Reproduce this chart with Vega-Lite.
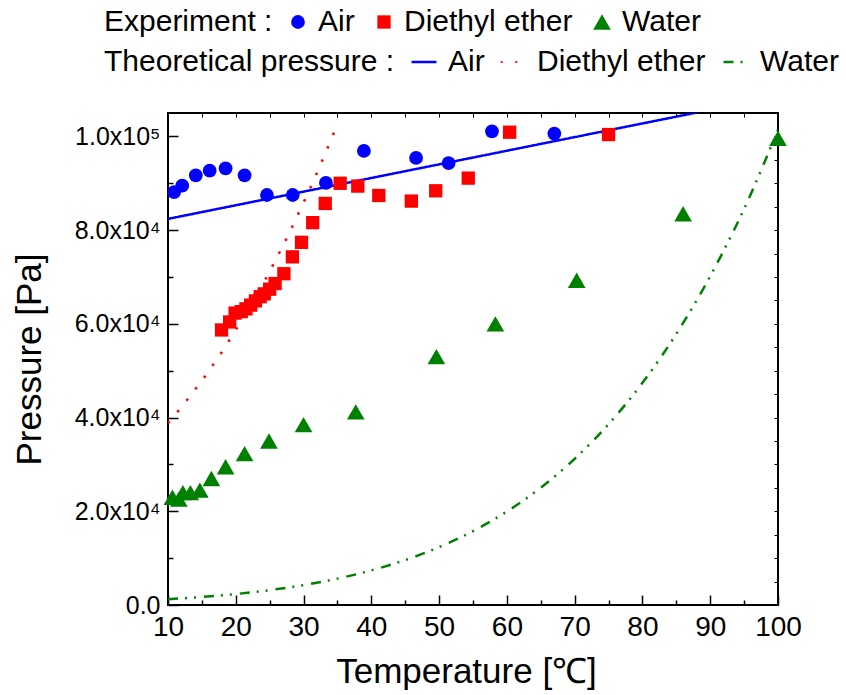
{
  "$schema": "https://vega.github.io/schema/vega-lite/v6.json",
  "width": 610,
  "height": 492,
  "autosize": {"type": "none"},
  "padding": {"left": 168, "top": 113, "right": 68, "bottom": 90},
  "background": "white",
  "config": {
    "view": {"stroke": "black", "strokeWidth": 2},
    "font": "Liberation Sans",
    "axis": {
      "grid": false,
      "domain": false,
      "tickColor": "black",
      "tickWidth": 1.5,
      "labelColor": "black",
      "titleColor": "black",
      "labelFont": "Liberation Sans",
      "titleFont": "Liberation Sans",
      "titleFontWeight": "normal",
      "labelFlush": false,
      "labelOverlap": false
    },
    "legend": {
      "orient": "none",
      "direction": "horizontal",
      "titleOrient": "left",
      "labelFont": "Liberation Sans",
      "titleFont": "Liberation Sans",
      "labelFontSize": 30,
      "titleFontSize": 30,
      "titleFontWeight": "normal",
      "labelColor": "black",
      "titleColor": "black",
      "titlePadding": 14,
      "labelOffset": 9,
      "columnPadding": 20,
      "titleLimit": 500,
      "labelLimit": 400
    }
  },
  "datasets": {
    "theory": [
      {"T": 10, "P": 82400, "gas": "Air"},
      {"T": 40, "P": 91130, "gas": "Air"},
      {"T": 70, "P": 99860, "gas": "Air"},
      {"T": 100, "P": 108590, "gas": "Air"},
      {"T": 10, "P": 38800, "gas": "Diethyl ether"},
      {"T": 11, "P": 40500, "gas": "Diethyl ether"},
      {"T": 12, "P": 42300, "gas": "Diethyl ether"},
      {"T": 13, "P": 44100, "gas": "Diethyl ether"},
      {"T": 14, "P": 46000, "gas": "Diethyl ether"},
      {"T": 15, "P": 47900, "gas": "Diethyl ether"},
      {"T": 16, "P": 49900, "gas": "Diethyl ether"},
      {"T": 17, "P": 52000, "gas": "Diethyl ether"},
      {"T": 18, "P": 54100, "gas": "Diethyl ether"},
      {"T": 19, "P": 56400, "gas": "Diethyl ether"},
      {"T": 20, "P": 58700, "gas": "Diethyl ether"},
      {"T": 21, "P": 61000, "gas": "Diethyl ether"},
      {"T": 22, "P": 63400, "gas": "Diethyl ether"},
      {"T": 23, "P": 65900, "gas": "Diethyl ether"},
      {"T": 24, "P": 68500, "gas": "Diethyl ether"},
      {"T": 25, "P": 71200, "gas": "Diethyl ether"},
      {"T": 26, "P": 74000, "gas": "Diethyl ether"},
      {"T": 27, "P": 76800, "gas": "Diethyl ether"},
      {"T": 28, "P": 79700, "gas": "Diethyl ether"},
      {"T": 29, "P": 82800, "gas": "Diethyl ether"},
      {"T": 30, "P": 85900, "gas": "Diethyl ether"},
      {"T": 31, "P": 89000, "gas": "Diethyl ether"},
      {"T": 32, "P": 92300, "gas": "Diethyl ether"},
      {"T": 33, "P": 95700, "gas": "Diethyl ether"},
      {"T": 34, "P": 99100, "gas": "Diethyl ether"},
      {"T": 35, "P": 102700, "gas": "Diethyl ether"},
      {"T": 10, "P": 1230, "gas": "Water"},
      {"T": 15, "P": 1710, "gas": "Water"},
      {"T": 20, "P": 2340, "gas": "Water"},
      {"T": 25, "P": 3170, "gas": "Water"},
      {"T": 30, "P": 4250, "gas": "Water"},
      {"T": 35, "P": 5630, "gas": "Water"},
      {"T": 40, "P": 7380, "gas": "Water"},
      {"T": 45, "P": 9590, "gas": "Water"},
      {"T": 50, "P": 12350, "gas": "Water"},
      {"T": 55, "P": 15760, "gas": "Water"},
      {"T": 60, "P": 19950, "gas": "Water"},
      {"T": 65, "P": 25040, "gas": "Water"},
      {"T": 70, "P": 31200, "gas": "Water"},
      {"T": 75, "P": 38590, "gas": "Water"},
      {"T": 80, "P": 47410, "gas": "Water"},
      {"T": 85, "P": 57870, "gas": "Water"},
      {"T": 90, "P": 70180, "gas": "Water"},
      {"T": 95, "P": 84550, "gas": "Water"},
      {"T": 100, "P": 101420, "gas": "Water"}
    ],
    "experiment": [
      {"T": 10.9, "P": 88100, "sample": "Air"},
      {"T": 12.1, "P": 89500, "sample": "Air"},
      {"T": 14.1, "P": 91700, "sample": "Air"},
      {"T": 16.15, "P": 92700, "sample": "Air"},
      {"T": 18.5, "P": 93200, "sample": "Air"},
      {"T": 21.3, "P": 91700, "sample": "Air"},
      {"T": 24.6, "P": 87500, "sample": "Air"},
      {"T": 28.4, "P": 87500, "sample": "Air"},
      {"T": 33.3, "P": 90100, "sample": "Air"},
      {"T": 38.9, "P": 96900, "sample": "Air"},
      {"T": 46.6, "P": 95400, "sample": "Air"},
      {"T": 51.4, "P": 94300, "sample": "Air"},
      {"T": 57.8, "P": 101100, "sample": "Air"},
      {"T": 67.0, "P": 100600, "sample": "Air"},
      {"T": 17.9, "P": 58700, "sample": "Diethyl ether"},
      {"T": 19.1, "P": 60400, "sample": "Diethyl ether"},
      {"T": 19.9, "P": 62300, "sample": "Diethyl ether"},
      {"T": 20.8, "P": 62600, "sample": "Diethyl ether"},
      {"T": 21.5, "P": 63200, "sample": "Diethyl ether"},
      {"T": 22.2, "P": 64000, "sample": "Diethyl ether"},
      {"T": 22.9, "P": 64900, "sample": "Diethyl ether"},
      {"T": 23.6, "P": 65800, "sample": "Diethyl ether"},
      {"T": 24.2, "P": 66400, "sample": "Diethyl ether"},
      {"T": 25.0, "P": 67400, "sample": "Diethyl ether"},
      {"T": 25.8, "P": 68600, "sample": "Diethyl ether"},
      {"T": 27.1, "P": 70700, "sample": "Diethyl ether"},
      {"T": 28.35, "P": 74300, "sample": "Diethyl ether"},
      {"T": 29.7, "P": 77400, "sample": "Diethyl ether"},
      {"T": 31.35, "P": 81600, "sample": "Diethyl ether"},
      {"T": 33.2, "P": 85700, "sample": "Diethyl ether"},
      {"T": 35.4, "P": 90000, "sample": "Diethyl ether"},
      {"T": 38.0, "P": 89400, "sample": "Diethyl ether"},
      {"T": 41.1, "P": 87400, "sample": "Diethyl ether"},
      {"T": 45.9, "P": 86200, "sample": "Diethyl ether"},
      {"T": 49.5, "P": 88400, "sample": "Diethyl ether"},
      {"T": 54.3, "P": 91100, "sample": "Diethyl ether"},
      {"T": 60.4, "P": 100900, "sample": "Diethyl ether"},
      {"T": 75.0, "P": 100400, "sample": "Diethyl ether"},
      {"T": 10.65, "P": 23000, "sample": "Water"},
      {"T": 11.6, "P": 22600, "sample": "Water"},
      {"T": 12.2, "P": 24000, "sample": "Water"},
      {"T": 13.3, "P": 24000, "sample": "Water"},
      {"T": 14.7, "P": 24500, "sample": "Water"},
      {"T": 16.4, "P": 27000, "sample": "Water"},
      {"T": 18.5, "P": 29500, "sample": "Water"},
      {"T": 21.3, "P": 32300, "sample": "Water"},
      {"T": 24.9, "P": 35000, "sample": "Water"},
      {"T": 30.0, "P": 38500, "sample": "Water"},
      {"T": 37.7, "P": 41200, "sample": "Water"},
      {"T": 49.6, "P": 53000, "sample": "Water"},
      {"T": 58.3, "P": 60000, "sample": "Water"},
      {"T": 70.3, "P": 69300, "sample": "Water"},
      {"T": 86.0, "P": 83500, "sample": "Water"},
      {"T": 100, "P": 99600, "sample": "Water"}
    ]
  },
  "layer": [
    {
      "data": {"name": "theory"},
      "mark": {"type": "line", "clip": true, "strokeWidth": 2.5, "interpolate": "monotone"},
      "encoding": {
        "x": {
          "field": "T", "type": "quantitative",
          "scale": {"domain": [10, 100], "nice": false, "zero": false},
          "axis": {
            "orient": "top", "title": null, "labels": false,
            "values": [10, 15, 20, 25, 30, 35, 40, 45, 50, 55, 60, 65, 70, 75, 80, 85, 90, 95, 100],
            "tickSize": -4, "tickWidth": 1
          }
        },
        "y": {
          "field": "P", "type": "quantitative",
          "scale": {"domain": [0, 105000], "nice": false},
          "axis": {
            "orient": "right", "title": null, "labels": false,
            "values": [0, 5000, 10000, 15000, 20000, 25000, 30000, 35000, 40000, 45000, 50000, 55000, 60000, 65000, 70000, 75000, 80000, 85000, 90000, 95000, 100000],
            "tickSize": -4, "tickWidth": 1
          }
        },
        "color": {
          "field": "gas", "type": "nominal",
          "scale": {"domain": ["Air", "Diethyl ether", "Water"], "range": ["#0000ff", "#ff0000", "#008000"]},
          "legend": {
            "title": "Theoretical pressure :",
            "symbolType": "stroke",
            "symbolSize": 625,
            "symbolStrokeWidth": 2.5,
            "columnPadding": 12,
            "labelOffset": 9,
            "titlePadding": 14,
            "legendX": -64,
            "legendY": -66,
            "encode": {
              "symbols": {
                "update": {
                  "strokeDash": {"signal": "datum.value == 'Diethyl ether' ? [2, 3] : [1, 0]"},
                  "strokeWidth": {"signal": "datum.value == 'Diethyl ether' ? 1.5 : 2.5"}
                }
              }
            }
          }
        },
        "strokeDash": {
          "field": "gas", "type": "nominal",
          "scale": {"domain": ["Air", "Diethyl ether", "Water"], "range": [[1, 0], [2.5, 12], [10, 7, 2, 7, 2, 8]]},
          "legend": null
        }
      }
    },
    {
      "data": {"name": "experiment"},
      "mark": {"type": "point", "filled": true, "opacity": 1},
      "encoding": {
        "x": {
          "field": "T", "type": "quantitative",
          "axis": {
            "orient": "bottom",
            "title": "Temperature [℃]",
            "titleFontSize": 35,
            "titlePadding": 8,
            "titleX": 298,
            "values": [10, 15, 20, 25, 30, 35, 40, 45, 50, 55, 60, 65, 70, 75, 80, 85, 90, 95, 100],
            "labelExpr": "datum.value % 10 == 0 ? format(datum.value, 'd') : ''",
            "labelFontSize": 28,
            "labelPadding": 18,
            "tickSize": {"condition": {"test": "datum.value % 10 == 0", "value": -10}, "value": -5}
          }
        },
        "y": {
          "field": "P", "type": "quantitative",
          "axis": {
            "orient": "left",
            "title": "Pressure [Pa]",
            "titleFontSize": 35,
            "titlePadding": 27,
            "values": [0, 10000, 20000, 30000, 40000, 50000, 60000, 70000, 80000, 90000, 100000],
            "labelExpr": "datum.value % 20000 != 0 ? '' : datum.value == 0 ? '0.0' : datum.value >= 100000 ? '1.0x10⁵' : format(datum.value / 10000, '.1f') + 'x10⁴'",
            "labelFontSize": 25,
            "labelPadding": 18,
            "tickSize": {"condition": {"test": "datum.value % 20000 == 0", "value": -10}, "value": -5}
          }
        },
        "color": {
          "field": "sample", "type": "nominal",
          "scale": {"domain": ["Air", "Diethyl ether", "Water"], "range": ["#0000ff", "#ff0000", "#008000"]},
          "legend": {
            "title": "Experiment :",
            "symbolSize": 150,
            "titlePadding": 10,
            "labelOffset": 5,
            "columnPadding": 14,
            "legendX": -64,
            "legendY": -106
          }
        },
        "shape": {
          "field": "sample", "type": "nominal",
          "scale": {"domain": ["Air", "Diethyl ether", "Water"], "range": ["circle", "square", "triangle-up"]},
          "legend": {
            "title": "Experiment :",
            "symbolSize": 150,
            "titlePadding": 10,
            "labelOffset": 5,
            "columnPadding": 14,
            "legendX": -64,
            "legendY": -106
          }
        },
        "size": {
          "field": "sample", "type": "nominal",
          "scale": {"type": "ordinal", "domain": ["Air", "Diethyl ether", "Water"], "range": [190, 177, 313]},
          "legend": null
        }
      }
    }
  ],
  "resolve": {
    "scale": {"color": "independent", "shape": "independent", "size": "independent", "strokeDash": "independent"},
    "axis": {"x": "independent", "y": "independent"}
  }
}
